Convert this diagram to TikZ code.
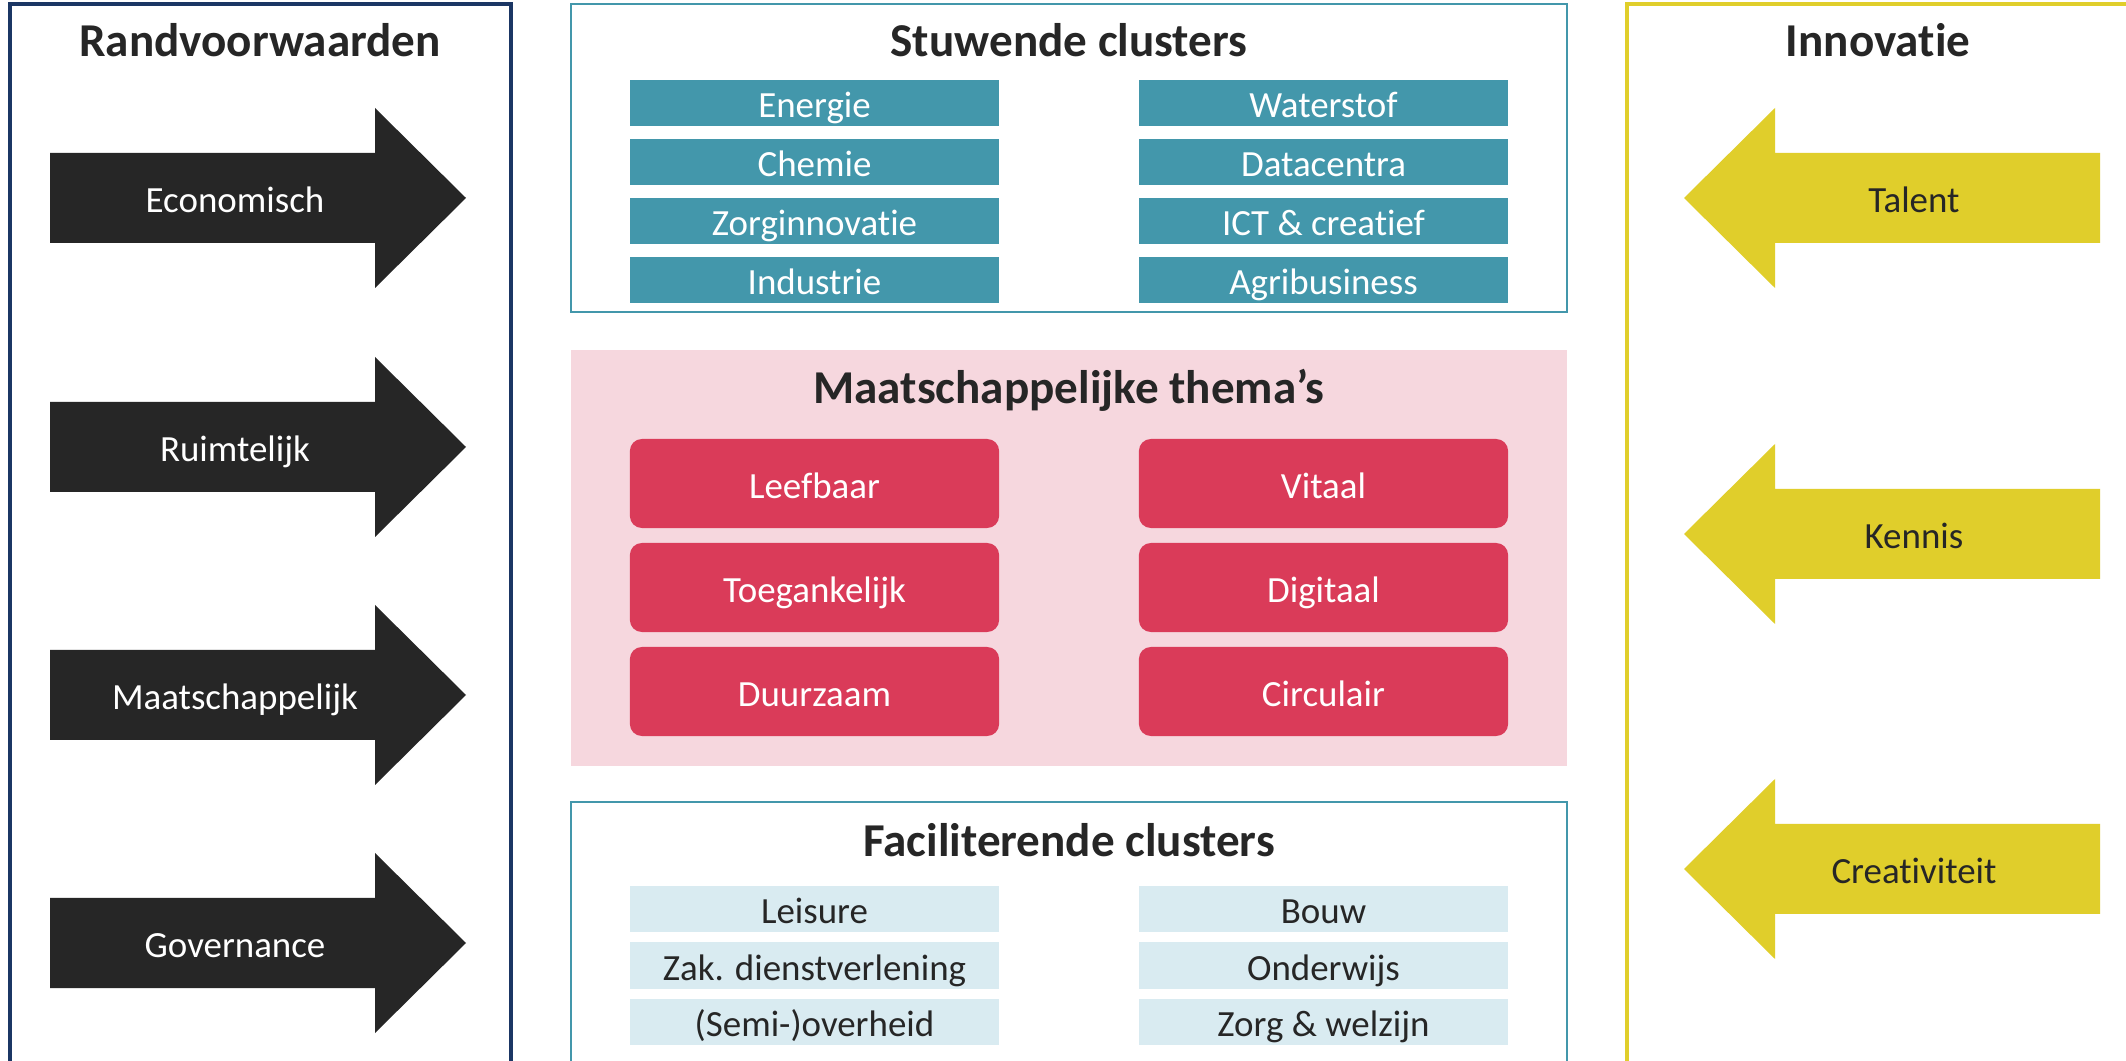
\documentclass[tikz,border=0pt]{standalone}
\usepackage{fontspec}
\setmainfont{Carlito}[Ligatures=NoCommon]
\definecolor{navyframe}{HTML}{1B3664}
\definecolor{tealc}{HTML}{4397AB}
\definecolor{themered}{HTML}{DA3B59}
\definecolor{pinkbg}{HTML}{F6D7DE}
\definecolor{lightblue}{HTML}{D9EBF1}
\definecolor{yellowc}{HTML}{E0CE2B}
\definecolor{arrowblack}{HTML}{262626}
\definecolor{txtdark}{HTML}{262626}
\begin{document}
\begin{tikzpicture}[x=0.01cm, y=-0.01cm,
		title/.style={font=\fontsize{13.4}{16}\selectfont\bfseries, text=txtdark, text height=8.6pt, text depth=0pt, inner sep=0pt},
		item/.style={font=\fontsize{10.5}{12}\selectfont, text height=8.4pt, text depth=0pt, inner sep=0pt, minimum width=3.69cm},
		stuw/.style={item, fill=tealc, text=white, minimum height=0.46cm},
		thema/.style={item, fill=themered, text=white, minimum height=0.89cm, rounded corners=0.12cm},
		facil/.style={item, fill=lightblue, text=txtdark, minimum height=0.46cm}]
	\useasboundingbox (0,0) rectangle (2126,1061);
	\fill[white] (0,0) rectangle (2126,1061);
	\clip (0,0) rectangle (2126,1061);
	% frames
	\draw[navyframe, line width=1pt] (10,4) rectangle (511,1090);
	\draw[tealc, line width=0.7pt] (571,4) rectangle (1567,312);
	\fill[pinkbg] (571,350) rectangle (1567,766);
	\draw[tealc, line width=0.7pt] (571,802) rectangle (1567,1090);
	\draw[yellowc, line width=0.95pt] (1627,4) rectangle (2140,1090);
	% titles
	\node[title] (randv) at (260,41) {Randvoorwaarden};
	\node[title] (innov) at (1878,41) {Innovatie};
	\node[title] (stuwtitle) at (1069,41) {Stuwende clusters};
	\node[title] (thematitle) at (1069,388) {Maatschappelijke thema’s};
	\node[title] (faciltitle) at (1069,841) {Faciliterende clusters};
	% randvoorwaarden
	\foreach \y/\nm/\txt in {198/eco/Economisch, 447/ruimte/Ruimtelijk, 695/maatsch/Maatschappelijk, 943/gov/Governance}{
		\fill[arrowblack] (50,\y-45) -- (375,\y-45) -- (375,\y-90) -- (466,\y) -- (375,\y+90) -- (375,\y+45) -- (50,\y+45) -- cycle;
		\node[item, minimum width=0pt, text=white] (\nm) at (235,\y) {\txt};
	}
	% innovatie
	\foreach \y/\nm/\txt in {198/talent/Talent, 534/kennis/Kennis, 869/creat/Creativiteit}{
		\fill[yellowc] (2100,\y-45) -- (1775,\y-45) -- (1775,\y-90) -- (1684,\y) -- (1775,\y+90) -- (1775,\y+45) -- (2100,\y+45) -- cycle;
		\node[item, minimum width=0pt, text=txtdark] (\nm) at (1914,\y) {\txt};
	}
	% clusters en thema's
	\foreach \l/\r [count=\i from 0] in {Energie/Waterstof, Chemie/Datacentra, Zorginnovatie/ICT \& creatief, Industrie/Agribusiness}{
		\node[stuw] (stuwL\i) at (814.5,103+59*\i) {\l};
		\node[stuw] (stuwR\i) at (1323.5,103+59*\i) {\r};
	}
	\foreach \l/\r [count=\i from 0] in {Leefbaar/Vitaal, Toegankelijk/Digitaal, Duurzaam/Circulair}{
		\node[thema] (themaL\i) at (814.5,483.5+104*\i) {\l};
		\node[thema] (themaR\i) at (1323.5,483.5+104*\i) {\r};
	}
	\foreach \l/\r [count=\i from 0] in {Leisure/Bouw, Zak. dienstverlening/Onderwijs, (Semi-)overheid/Zorg \& welzijn}{
		\node[facil] (facilL\i) at (814.5,909+56.5*\i) {\l};
		\node[facil] (facilR\i) at (1323.5,909+56.5*\i) {\r};
	}
\end{tikzpicture}
\end{document}
